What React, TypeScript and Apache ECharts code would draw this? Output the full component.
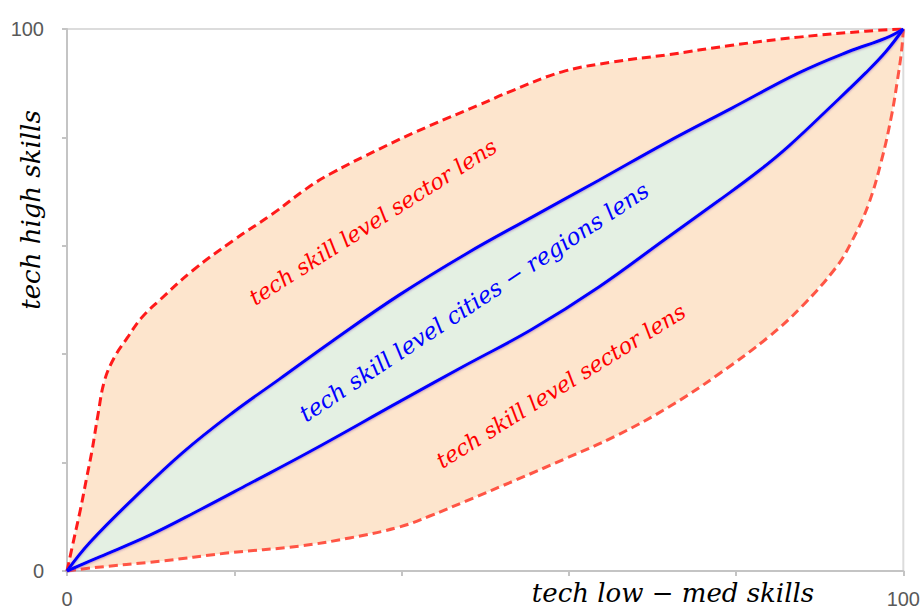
import React, { useEffect, useRef } from "react";
import * as echarts from "echarts";

// x = tech low-med skills (0..100), y = tech high skills (0..100)
const sectorUpper: number[][] = [
  [0, 0], [0.8, 5.7], [1.6, 11.3], [2.3, 16.8], [3.0, 22.3], [3.7, 28.8], [4.5, 35.2],
  [5.7, 39.5], [7.2, 43.0], [8.9, 46.7], [11.1, 50.0], [15.0, 55.4], [19.8, 60.9],
  [24.6, 65.9], [28.6, 70.5], [31.4, 73.2], [37.4, 77.9], [43.3, 82.1], [49.3, 86.0],
  [53.2, 88.6], [59.2, 92.1], [65.2, 93.9], [71.6, 95.2], [79.5, 97.0], [87.5, 98.5],
  [95.5, 99.6], [100, 100],
];
const sectorLower: number[][] = [
  [0, 0], [3.1, 0.6], [11.1, 1.8], [19.1, 3.3], [27.8, 4.6], [33.8, 6.1], [39.7, 8.1],
  [43.3, 10.1], [47.7, 12.9], [53.7, 16.8], [59.7, 20.8], [65.6, 24.9], [72.0, 30.3],
  [77.9, 36.3], [83.9, 43.2], [87.8, 48.7], [91.9, 55.9], [93.8, 60.7], [95.8, 67.5],
  [97.4, 75.8], [98.6, 84.1], [99.3, 90.6], [99.8, 96.1], [100, 100],
];
const citiesUpper: number[][] = [
  [0, 0], [2.7, 5.2], [7.9, 13.3], [13.8, 21.8], [19.8, 29.2], [25.4, 35.4], [31.7, 42.4],
  [39.7, 50.9], [47.7, 58.5], [55.6, 65.3], [63.6, 72.1], [71.6, 79.0], [79.5, 85.4],
  [87.5, 91.9], [93.4, 95.8], [97.9, 98.3], [100, 100],
];
const citiesLower: number[][] = [
  [0, 0], [3.9, 2.6], [9.9, 6.6], [15.9, 11.3], [21.8, 16.1], [29.0, 22.0], [39.7, 31.2],
  [47.7, 38.0], [55.6, 44.6], [63.6, 52.4], [71.6, 61.3], [77.9, 68.3], [82.7, 73.8],
  [86.3, 78.4], [91.4, 85.8], [95.5, 91.9], [97.9, 95.8], [100, 100],
];
const shownTicks = [0, 100];
const xTitle = "tech low − med skills";
const yTitle = "tech high skills";
const sectorLabel = "tech skill level sector lens";
const citiesLabel = "tech skill level cities − regions lens";

const titleFont = "italic 26px 'DejaVu Serif', serif";
const noteFont = "italic 22px 'DejaVu Serif', serif";
const noteFontBlue = "italic 23px 'DejaVu Serif', serif";
const tickFont = "'Liberation Sans', Arial, sans-serif";

function band(upper: number[][], lower: number[][], fill: string, z: number) {
  const pts = upper.concat(lower.slice().reverse());
  return {
    type: "custom",
    silent: true,
    z,
    data: [[0, 0]],
    renderItem: (_p: any, api: any) => ({
      type: "polygon",
      shape: { points: pts.map((p) => api.coord(p)) },
      style: { fill, stroke: null },
    }),
  };
}

function curve(data: number[][], color: string, dashed: boolean, z: number) {
  return {
    type: "line",
    data,
    z,
    smooth: 0.4,
    showSymbol: false,
    symbol: "none",
    silent: true,
    lineStyle: dashed
      ? { color, width: 3, type: [9, 5] }
      : {
          color, width: 3, type: "solid",
          shadowColor: "rgba(112, 48, 160, 0.45)", shadowBlur: 2, shadowOffsetY: 1,
        },
  };
}

export default function App() {
  const ref = useRef<HTMLDivElement>(null);
  useEffect(() => {
    if (!ref.current) return;
    const chart = echarts.init(ref.current, undefined, { renderer: "svg" });
    const axisCommon = {
      type: "value",
      min: 0,
      max: 100,
      interval: 20,
      axisLine: { show: true, lineStyle: { color: "#c4c4c4", width: 2 } },
      axisTick: { show: true, length: 5, lineStyle: { color: "#c4c4c4", width: 2 } },
      splitLine: { show: false },
    };
    chart.setOption({
      animation: false,
      backgroundColor: "#ffffff",
      grid: {
        left: 67, right: 18, top: 29, bottom: 39,
        show: true, borderColor: "#dcdcdc", borderWidth: 2, backgroundColor: "transparent",
      },
      xAxis: {
        ...axisCommon,
        axisLabel: {
          color: "#595959", fontSize: 20, fontFamily: tickFont, margin: 18,
          formatter: (v: number) => (shownTicks.includes(v) ? String(v) : ""),
        },
      },
      yAxis: {
        ...axisCommon,
        axisLabel: {
          color: "#595959", fontSize: 20, fontFamily: tickFont, margin: 23,
          formatter: (v: number) => (shownTicks.includes(v) ? String(v) : ""),
        },
      },
      series: [
        band(sectorUpper, sectorLower, "#fde5cd", 1),
        band(citiesUpper, citiesLower, "#e4f0e3", 2),
        curve(sectorUpper, "#ff1a1a", true, 5),
        curve(sectorLower, "#ff5545", true, 5),
        curve(citiesUpper, "#0000ff", false, 6),
        curve(citiesLower, "#0000ff", false, 6),
      ],
      graphic: [
        {
          type: "text", x: 673, y: 593, z: 100,
          style: { text: xTitle, font: titleFont, fill: "#000", align: "center", verticalAlign: "middle" },
        },
        {
          type: "text", x: 31, y: 210, rotation: Math.PI / 2, z: 100,
          style: { text: yTitle, font: titleFont, fill: "#000", align: "center", verticalAlign: "middle" },
        },
        {
          type: "text", x: 373, y: 222, rotation: (32.5 * Math.PI) / 180, z: 100,
          style: { text: sectorLabel, font: noteFont, fill: "#ff0000", align: "center", verticalAlign: "middle" },
        },
        {
          type: "text", x: 474, y: 302, rotation: (33.5 * Math.PI) / 180, z: 100,
          style: { text: citiesLabel, font: noteFontBlue, fill: "#0000ff", align: "center", verticalAlign: "middle" },
        },
        {
          type: "text", x: 561, y: 386, rotation: (32 * Math.PI) / 180, z: 100,
          style: { text: sectorLabel, font: noteFont, fill: "#ff0000", align: "center", verticalAlign: "middle" },
        },
      ],
    });
    return () => chart.dispose();
  }, []);
  return (
    <div
      ref={ref}
      style={{ position: "fixed", left: 0, top: 0, width: 923, height: 610 }}
    />
  );
}
